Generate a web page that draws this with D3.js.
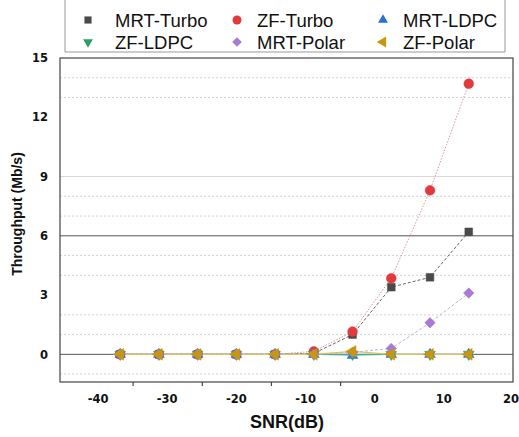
<!DOCTYPE html>
<html>
<head>
<meta charset="utf-8">
<script src="https://cdn.jsdelivr.net/npm/d3@7"></script>
<style>
  body { margin: 0; background: #fff; }
  svg { display: block; }
</style>
</head>
<body>
<script>
// values
const snr = [-36.8, -31.2, -25.6, -20, -14.4, -8.8, -3.2, 2.4, 8, 13.6]
const mrtTurbo = [0, 0, 0, 0, 0, 0.05, 1.0, 3.4, 3.9, 6.2]
const zfTurbo = [0, 0, 0, 0, 0, 0.15, 1.15, 3.85, 8.3, 13.7]
const mrtLdpc = [0, 0, 0, 0, 0, 0, -0.05, 0, 0, 0]
const zfLdpc = [0, 0, 0, 0, 0, 0, 0, 0, 0, 0]
const mrtPolar = [0, 0, 0, 0, 0, 0, 0.1, 0.3, 1.6, 3.1]
const zfPolar = [0, 0, 0, 0, 0, 0, 0.15, 0, 0, 0]

const xTicks = [-40, -30, -20, -10, 0, 10, 20]
const xMinorTicks = [-35, -25, -15, -5]
const yTicks = [0, 3, 6, 9, 12, 15]
const darkGrid = [0, 6]
const lightGrid = [9]
const dottedGrid = [-1, 1, 2, 4, 5, 7, 8, 13, 14]

const series = [
  { name: 'MRT-Turbo', values: mrtTurbo, color: '#4a4a4a', line: '#555', dash: '3,2', symbol: d3.symbolSquare, rot: 0, size: 60 },
  { name: 'ZF-Turbo', values: zfTurbo, color: '#e2393d', line: '#d88a8a', dash: '1.5,1.5', symbol: d3.symbolCircle, rot: 0, size: 75 },
  { name: 'MRT-LDPC', values: mrtLdpc, color: '#2a6fd4', line: '#4cb8c8', dash: null, symbol: d3.symbolTriangle, rot: 0, size: 50 },
  { name: 'ZF-LDPC', values: zfLdpc, color: '#2f9e66', line: '#4cb08a', dash: null, symbol: d3.symbolTriangle, rot: 180, size: 50 },
  { name: 'MRT-Polar', values: mrtPolar, color: '#a97ad6', line: '#c0a4e0', dash: '3,2', symbol: d3.symbolSquare, rot: 45, size: 55 },
  { name: 'ZF-Polar', values: zfPolar, color: '#c9960f', line: '#e0c060', dash: null, symbol: d3.symbolTriangle, rot: -90, size: 60 }
]

const width = 519, height = 437
const margin = { top: 58, right: 6, bottom: 55, left: 60 }

const svg = d3.select('body').append('svg')
  .attr('width', width)
  .attr('height', height)

const x = d3.scaleLinear().domain([-45.5, 20]).range([margin.left, width - margin.right])
const y = d3.scaleLinear().domain([-1.4, 15]).range([height - margin.bottom, margin.top])

// grid
svg.append('g').selectAll('line').data(dottedGrid).join('line')
  .attr('x1', x.range()[0]).attr('x2', x.range()[1])
  .attr('y1', d => y(d)).attr('y2', d => y(d))
  .attr('stroke', '#c8c8c8').attr('stroke-width', 0.8).attr('stroke-dasharray', '2,2')
svg.append('g').selectAll('line').data(lightGrid).join('line')
  .attr('x1', x.range()[0]).attr('x2', x.range()[1])
  .attr('y1', d => y(d)).attr('y2', d => y(d))
  .attr('stroke', '#d8d8d8').attr('stroke-width', 1)
svg.append('g').selectAll('line').data(darkGrid).join('line')
  .attr('x1', x.range()[0]).attr('x2', x.range()[1])
  .attr('y1', d => y(d)).attr('y2', d => y(d))
  .attr('stroke', '#555').attr('stroke-width', 1)

// frame
svg.append('rect')
  .attr('x', x.range()[0]).attr('y', y.range()[1])
  .attr('width', x.range()[1] - x.range()[0])
  .attr('height', y.range()[0] - y.range()[1])
  .attr('fill', 'none').attr('stroke', '#444').attr('stroke-width', 1.2)

// x axis: minor tick marks only, labels at the decades
const xAxis = svg.append('g').attr('transform', `translate(0,${y.range()[0]})`)
  .call(d3.axisBottom(x).tickValues(xMinorTicks).tickSize(4).tickFormat(''))
xAxis.select('.domain').remove()
xAxis.selectAll('line').attr('stroke', '#444').attr('stroke-width', 1.2)

svg.append('g').selectAll('text').data(xTicks).join('text')
  .attr('x', d => Math.min(x(d), width - 8)).attr('y', 403)
  .attr('text-anchor', 'middle')
  .style('font', 'bold 11.5px "DejaVu Sans"')
  .attr('fill', '#111')
  .text(d => d)

const yAxis = svg.append('g').attr('transform', `translate(${x.range()[0]},0)`)
  .call(d3.axisLeft(y).tickValues(yTicks).tickSize(0).tickPadding(12))
yAxis.select('.domain').remove()
yAxis.selectAll('text')
  .style('font', 'bold 11.5px "DejaVu Sans"')
  .attr('fill', '#111')

svg.append('text')
  .attr('x', 287).attr('y', 428)
  .attr('text-anchor', 'middle')
  .style('font', 'bold 18px "Liberation Sans", Arial')
  .attr('fill', '#111')
  .text('SNR(dB)')

svg.append('text')
  .attr('transform', `translate(22,${(y.range()[0] + y.range()[1]) / 2 - 6}) rotate(-90)`)
  .attr('text-anchor', 'middle')
  .style('font', 'bold 14px "Liberation Sans", Arial')
  .attr('fill', '#111')
  .text('Throughput (Mb/s)')

// series
const line = d3.line().x((d, i) => x(snr[i])).y(d => y(d))
const plot = svg.append('g')
series.forEach(s => {
  plot.append('path')
    .datum(s.values)
    .attr('d', line)
    .attr('fill', 'none')
    .attr('stroke', s.line)
    .attr('stroke-width', s.name === 'ZF-Polar' ? 1.2 : 0.9)
    .attr('stroke-dasharray', s.dash)
})
series.forEach(s => {
  const sym = d3.symbol().type(s.symbol).size(s.size)
  plot.append('g').selectAll('path').data(s.values).join('path')
    .attr('d', sym)
    .attr('transform', (d, i) => `translate(${x(snr[i])},${y(d)}) rotate(${s.rot})`)
    .attr('fill', s.color)
    .attr('stroke', s.color).attr('stroke-width', 0.5)
})

// legend
const legend = svg.append('g')
legend.append('path')
  .attr('d', 'M65,-2 V52 H505 V-2')
  .attr('fill', 'none').attr('stroke', '#999').attr('stroke-width', 1)
const colX = [88, 237, 383]
const rowY = [20, 42]
series.forEach((s, i) => {
  const cx = colX[i % 3], cy = rowY[Math.floor(i / 3)]
  legend.append('path')
    .attr('d', d3.symbol().type(s.symbol).size(s.size * 0.85))
    .attr('transform', `translate(${cx},${cy}) rotate(${s.rot})`)
    .attr('fill', s.color)
  legend.append('text')
    .attr('x', cx + (i % 3 === 0 ? 27 : 20)).attr('y', cy + 6.5)
    .style('font', '18.5px "Liberation Sans", Arial')
    .attr('fill', '#111')
    .text(s.name)
})
</script>
</body>
</html>
